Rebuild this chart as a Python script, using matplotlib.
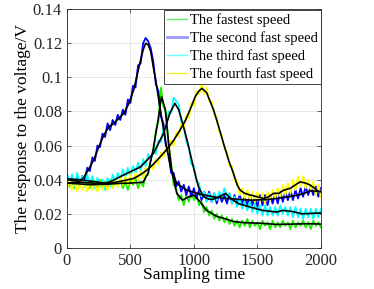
import numpy as np
import matplotlib
matplotlib.use("Agg")
import matplotlib.pyplot as plt
from matplotlib.ticker import FuncFormatter

plt.rcParams['font.family'] = ['Liberation Serif', 'DejaVu Serif']
plt.rcParams['mathtext.fontset'] = 'stix'

# sample positions of the raw (noisy) traces
t_raw = list(range(0, 2001, 20))

# raw traces, mV
fastest = [41, 36, 39, 35, 40, 37, 42, 36, 38, 35, 40, 39, 34, 40, 36, 39, 35, 40, 35, 39,
           36, 41, 35, 39, 34, 40, 37, 41, 35, 39, 36, 42, 43, 53, 56, 69, 74, 94, 83, 79,
           60, 50, 37, 35, 28, 31, 25, 31, 27, 33, 28, 31, 25, 27, 21, 24, 19, 22, 17, 20,
           16, 19, 15, 18, 14, 17, 13, 16, 12, 16, 13, 17, 12, 16, 13, 15, 11, 16, 13, 15,
           11, 16, 12, 15, 12, 16, 13, 15, 11, 16, 12, 15, 13, 16, 12, 15, 11, 16, 13, 15, 12]
second = [43, 38, 41, 37, 41, 37, 42, 40, 47, 45, 53, 51, 60, 59, 67, 65, 73, 69, 75, 72,
          78, 75, 81, 78, 87, 85, 95, 94, 107, 108, 120, 123, 121, 117, 109, 96, 92, 77, 73, 59,
          56, 44, 44, 36, 39, 33, 37, 31, 36, 30, 35, 29, 34, 28, 33, 28, 33, 27, 32, 26,
          32, 27, 31, 26, 32, 26, 31, 25, 31, 26, 30, 25, 31, 25, 30, 24, 31, 25, 31, 25,
          31, 26, 32, 26, 33, 27, 33, 28, 34, 28, 34, 29, 35, 30, 36, 31, 36, 31, 36, 30, 35]
third = [44, 37, 43, 36, 44, 38, 42, 36, 43, 37, 42, 35, 41, 36, 40, 34, 41, 36, 43, 38,
         44, 40, 46, 41, 47, 42, 48, 44, 50, 45, 52, 48, 55, 51, 58, 55, 63, 62, 70, 70,
         80, 79, 88, 86, 84, 74, 73, 62, 59, 49, 48, 39, 38, 30, 33, 27, 32, 27, 32, 28,
         33, 29, 35, 30, 32, 26, 30, 24, 29, 23, 27, 22, 27, 21, 26, 20, 25, 19, 25, 19,
         24, 19, 24, 19, 25, 20, 24, 19, 24, 18, 24, 18, 23, 17, 23, 18, 23, 17, 23, 18, 23]
fourth = [35, 40, 34, 39, 33, 39, 34, 38, 33, 39, 34, 38, 33, 39, 34, 38, 34, 39, 35, 40,
          36, 41, 37, 42, 37, 43, 38, 44, 40, 45, 41, 47, 44, 49, 46, 52, 49, 56, 53, 59,
          56, 63, 60, 68, 65, 73, 70, 78, 76, 85, 83, 92, 90, 96, 90, 94, 86, 86, 78, 77,
          68, 66, 58, 57, 48, 48, 39, 40, 31, 35, 29, 34, 28, 33, 27, 33, 27, 32, 26, 33,
          28, 34, 29, 35, 30, 37, 31, 38, 32, 40, 34, 42, 36, 42, 35, 40, 34, 39, 31, 37, 30]

# smoothed traces (black), mV
fit1_t = [0, 100, 200, 300, 400, 500, 600, 640, 680, 720, 745, 775, 800, 825, 865, 910, 960,
          1000, 1050, 1100, 1180, 1250, 1310, 1400, 1520, 1650, 1780, 1900, 2000]
fit1_v = [38, 38.5, 38, 37.2, 37.8, 38, 38.5, 44, 58, 76, 88.6, 81, 62, 45, 32, 28, 30,
          31, 27, 22, 18.5, 17, 15.5, 14.8, 14.5, 13.8, 14, 14.2, 14]
fit2_t = [0, 50, 100, 130, 170, 210, 250, 290, 330, 370, 410, 450, 490, 525, 555, 580, 600,
          620, 640, 660, 680, 700, 735, 775, 815, 865, 945, 1050, 1150, 1250, 1350, 1450,
          1570, 1650, 1750, 1850, 1920, 2000]
fit2_v = [40, 39.5, 39, 41, 46, 51.4, 59, 66, 71, 73, 76, 79, 85, 92.5, 102, 110, 116,
          119.9, 119, 115, 106, 98, 81, 63, 47.5, 37.7, 33.8, 31.5, 30, 29, 28.5, 28,
          28.3, 29, 30, 31.5, 33.5, 33]
fit3_t = [0, 100, 200, 300, 340, 400, 470, 580, 680, 760, 810, 850, 880, 900, 950, 1000,
          1035, 1075, 1120, 1150, 1200, 1250, 1290, 1350, 1440, 1540, 1600, 1650, 1700,
          1780, 1850, 2000]
fit3_v = [40.5, 40, 39, 38, 38.7, 41, 43.6, 47.5, 55.3, 67, 78.8, 84.7, 81, 76, 62, 46,
          36, 30, 28.5, 28.5, 30, 32, 29, 26, 24, 22, 21.5, 21, 22, 21.3, 20, 20.5]
fit4_t = [0, 100, 200, 300, 420, 525, 580, 630, 680, 735, 790, 840, 890, 935, 975, 1010,
          1040, 1063, 1100, 1155, 1195, 1234, 1275, 1312, 1340, 1365, 1400, 1444, 1500,
          1549, 1590, 1627, 1670, 1706, 1760, 1800, 1837, 1880, 1916, 1950, 1982, 2000]
fit4_v = [38, 37.5, 37, 37.5, 39, 40.7, 43, 45.6, 49, 53.4, 58, 63, 69, 75, 82, 88.6,
          92, 93.5, 91, 80.8, 71, 61, 51, 43.6, 37, 33.8, 32, 31, 30, 29, 30, 32, 32,
          33.8, 35, 37, 38.7, 38, 36.8, 35, 33, 33]

names = ['The fastest speed', 'The second fast speed', 'The third fast speed',
         'The fourth fast speed']
colors = ['#22ee00', '#0000ff', '#00ffff', '#ffff00']
legend_colors = ['#66ee66', '#9a9aff', '#66ffff', '#eeee33']

fig = plt.figure(figsize=(3.74, 2.89), dpi=100)
ax = fig.add_axes([0.179, 0.142, 0.679, 0.827])

raws = [fastest, second, third, fourth]
for vals, c, nm in zip(raws, colors, names):
    ax.plot(t_raw, np.array(vals) / 1000, color=c, lw=1.3, label=nm)

for tt, vv in [(fit1_t, fit1_v), (fit2_t, fit2_v), (fit3_t, fit3_v), (fit4_t, fit4_v)]:
    ax.plot(tt, np.array(vv) / 1000, color='k', lw=1.2)

ax.set_xlim(0, 2000)
ax.set_ylim(0, 0.14)
ax.set_xticks([0, 500, 1000, 1500, 2000])
ax.set_yticks(np.arange(0, 0.141, 0.02))
ax.yaxis.set_major_formatter(FuncFormatter(lambda v, p: '%g' % round(v, 2)))
ax.tick_params(direction='in', top=True, right=True, labelsize=12, length=3, width=0.5,
               colors='#262626')
ax.grid(True, color='#e4e4e4', lw=0.6)
ax.set_axisbelow(True)
for s in ax.spines.values():
    s.set_linewidth(0.6)
    s.set_color('#262626')

ax.set_xlabel('Sampling time', fontsize=12.5, labelpad=-1)
ax.set_ylabel('The response to the voltage/V', fontsize=12.5, labelpad=1)

leg = ax.legend(loc='upper right', bbox_to_anchor=(1.0, 0.995), borderaxespad=0,
                fontsize=10.5, handlelength=1.4, handletextpad=0.2, labelspacing=0.3,
                borderpad=0.2, fancybox=False, framealpha=1, edgecolor='#262626')
leg.get_frame().set_linewidth(0.6)
for ln, c, w in zip(leg.get_lines(), legend_colors, [1.0, 2.0, 1.0, 1.0]):
    ln.set_color(c)
    ln.set_linewidth(w)

fig.savefig('out.png', dpi=100)
